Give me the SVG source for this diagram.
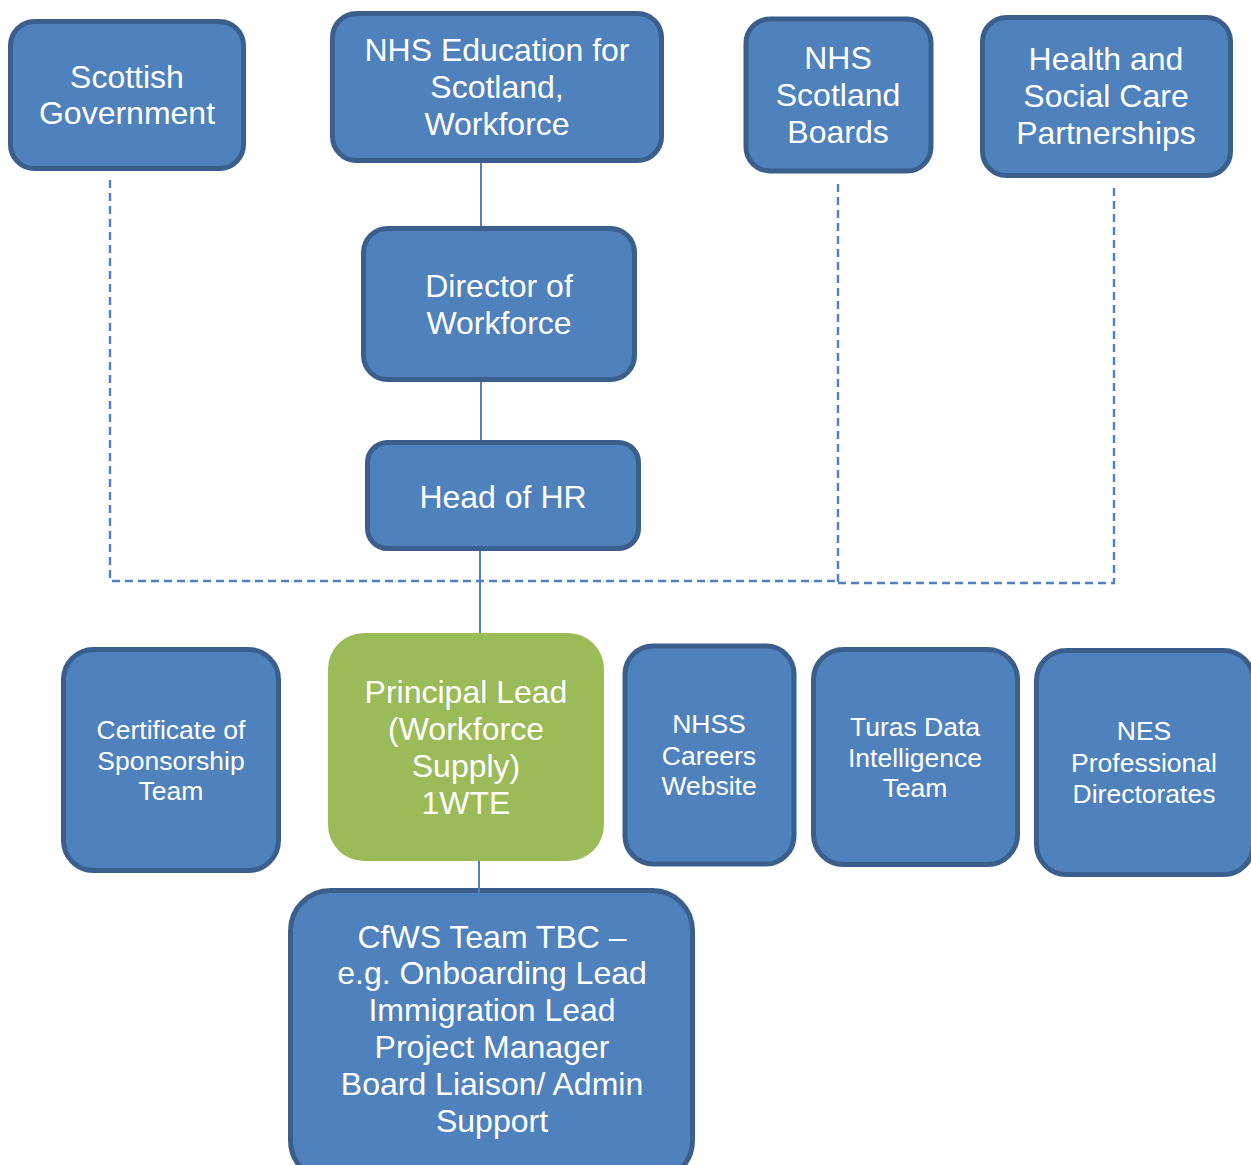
<svg xmlns="http://www.w3.org/2000/svg" width="1251" height="1165" viewBox="0 0 1251 1165">
<style>
.box{fill:#4f81bd;stroke:#3b5f8d;stroke-width:5}
.green{fill:#9bbb59;stroke:none}
.t{font-family:"Liberation Sans",Arial,sans-serif;fill:#ffffff;text-anchor:middle;font-size:32px}
.s{font-size:26.5px}
.solid{stroke:#4f81bd;stroke-width:2;fill:none}
.dash{stroke:#4f81bd;stroke-width:2.4;fill:none;stroke-dasharray:8 5}
</style>
<rect width="1251" height="1165" fill="#ffffff"/>
<g id="connectors">
<line class="solid" x1="481" y1="163" x2="481" y2="227"/>
<line class="solid" x1="481" y1="381" x2="481" y2="441"/>
<line class="solid" x1="480" y1="551" x2="480" y2="634"/>
<path class="dash" d="M110 180 V581 H838"/>
<path class="dash" d="M838 184 V583"/>
<path class="dash" d="M838 583 H1114 V183"/>
</g>
<g id="scottish-government">
<rect class="box" x="10.5" y="21.5" width="233" height="147" rx="24"/>
<text class="t" x="127" y="88">Scottish</text>
<text class="t" x="127" y="124">Government</text>
</g>
<g id="nhs-education">
<rect class="box" x="332.5" y="13.5" width="329" height="147" rx="24"/>
<text class="t" x="497" y="61">NHS Education for</text>
<text class="t" x="497" y="98">Scotland,</text>
<text class="t" x="497" y="135">Workforce</text>
</g>
<g id="nhs-scotland-boards">
<rect class="box" x="746" y="19" width="185" height="152" rx="24"/>
<text class="t" x="838" y="69">NHS</text>
<text class="t" x="838" y="106">Scotland</text>
<text class="t" x="838" y="143">Boards</text>
</g>
<g id="health-social-care">
<rect class="box" x="982.5" y="17.5" width="248" height="158" rx="24"/>
<text class="t" x="1106" y="70">Health and</text>
<text class="t" x="1106" y="107">Social Care</text>
<text class="t" x="1106" y="144">Partnerships</text>
</g>
<g id="director-workforce">
<rect class="box" x="363.5" y="228.5" width="271" height="151" rx="24"/>
<text class="t" x="499" y="297">Director of</text>
<text class="t" x="499" y="334">Workforce</text>
</g>
<g id="head-hr">
<rect class="box" x="367.5" y="442.5" width="271" height="106" rx="20"/>
<text class="t" x="503" y="508">Head of HR</text>
</g>
<g id="certificate-sponsorship">
<rect class="box" x="63.5" y="649.5" width="215" height="221" rx="30"/>
<text class="t s" x="171" y="739">Certificate of</text>
<text class="t s" x="171" y="770">Sponsorship</text>
<text class="t s" x="171" y="800">Team</text>
</g>
<g id="principal-lead">
<rect class="green" x="328" y="633" width="276" height="228" rx="36"/>
<text class="t" x="466" y="703">Principal Lead</text>
<text class="t" x="466" y="740">(Workforce</text>
<text class="t" x="466" y="777">Supply)</text>
<text class="t" x="466" y="814">1WTE</text>
</g>
<g id="nhss-careers">
<rect class="box" x="625" y="646" width="169" height="218" rx="28"/>
<text class="t s" x="709" y="733">NHSS</text>
<text class="t s" x="709" y="765">Careers</text>
<text class="t s" x="709" y="795">Website</text>
</g>
<g id="turas-data">
<rect class="box" x="813.5" y="649.5" width="204" height="215" rx="30"/>
<text class="t s" x="915" y="736">Turas Data</text>
<text class="t s" x="915" y="767">Intelligence</text>
<text class="t s" x="915" y="797">Team</text>
</g>
<g id="nes-professional">
<rect class="box" x="1036.5" y="650.5" width="217" height="224" rx="30"/>
<text class="t s" x="1144" y="740">NES</text>
<text class="t s" x="1144" y="772">Professional</text>
<text class="t s" x="1144" y="803">Directorates</text>
</g>
<g id="cfws-team">
<rect class="box" x="290.5" y="890.5" width="402" height="290" rx="40"/>
<text class="t" x="492" y="948">CfWS Team TBC –</text>
<text class="t" x="492" y="984">e.g. Onboarding Lead</text>
<text class="t" x="492" y="1021">Immigration Lead</text>
<text class="t" x="492" y="1058">Project Manager</text>
<text class="t" x="492" y="1095">Board Liaison/ Admin</text>
<text class="t" x="492" y="1132">Support</text>
</g>
<g id="connector-overlay">
<line class="solid" x1="479" y1="861" x2="479" y2="920"/>
</g>
</svg>
